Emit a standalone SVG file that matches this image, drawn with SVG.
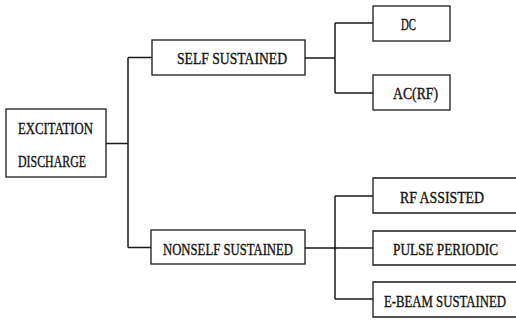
<svg xmlns="http://www.w3.org/2000/svg" width="516" height="320" viewBox="0 0 516 320">
<style>
.box{fill:#fff;stroke:#1a1a1a;stroke-width:1.3}
.t{font-family:"Liberation Serif","DejaVu Serif",serif;font-size:16.5px;fill:#111;stroke:#111;stroke-width:0.35}
.c{fill:none;stroke:#1a1a1a;stroke-width:1.5}
</style>
<rect width="516" height="320" fill="#fff"/>
<g id="connectors">
<path class="c" d="M106 143.5H128M128 57.5V247.5M128 57.5H152M128 247.5H151"/>
<path class="c" d="M305 58H335M335 23V93M335 23H373M335 93H373"/>
<path class="c" d="M305 248H335M335 196V299M335 196H373M335 248H373M335 299H373"/>
<circle cx="335" cy="248" r="1.6" fill="#1a1a1a"/>
</g>
<g id="excitation">
<rect class="box" x="6" y="109" width="100" height="68"/>
<text class="t" x="18" y="133.5" textLength="75" lengthAdjust="spacingAndGlyphs">EXCITATION</text>
<text class="t" x="18" y="167" textLength="68" lengthAdjust="spacingAndGlyphs">DISCHARGE</text>
</g>
<g id="self">
<rect class="box" x="152" y="40" width="153" height="35"/>
<text class="t" x="177" y="63.5" textLength="110" lengthAdjust="spacingAndGlyphs">SELF SUSTAINED</text>
</g>
<g id="nonself">
<rect class="box" x="151" y="230" width="154" height="34"/>
<text class="t" x="163" y="254.5" textLength="130" lengthAdjust="spacingAndGlyphs">NONSELF SUSTAINED</text>
</g>
<g id="dc">
<rect class="box" x="373" y="6" width="77" height="35"/>
<text class="t" x="401" y="30" textLength="15" lengthAdjust="spacingAndGlyphs">DC</text>
</g>
<g id="ac">
<rect class="box" x="373" y="75" width="77" height="35"/>
<text class="t" x="393" y="99" textLength="45" lengthAdjust="spacingAndGlyphs">AC(RF)</text>
</g>
<g id="rf">
<path class="box" d="M516 178H373V213H516"/>
<text class="t" x="400" y="202.5" textLength="84" lengthAdjust="spacingAndGlyphs">RF ASSISTED</text>
</g>
<g id="pulse">
<path class="box" d="M516 231H373V265H516"/>
<text class="t" x="393" y="255" textLength="105" lengthAdjust="spacingAndGlyphs">PULSE PERIODIC</text>
</g>
<g id="ebeam">
<path class="box" d="M516 282H373V317H516"/>
<text class="t" x="384" y="306.5" textLength="122" lengthAdjust="spacingAndGlyphs">E-BEAM SUSTAINED</text>
</g>
</svg>
